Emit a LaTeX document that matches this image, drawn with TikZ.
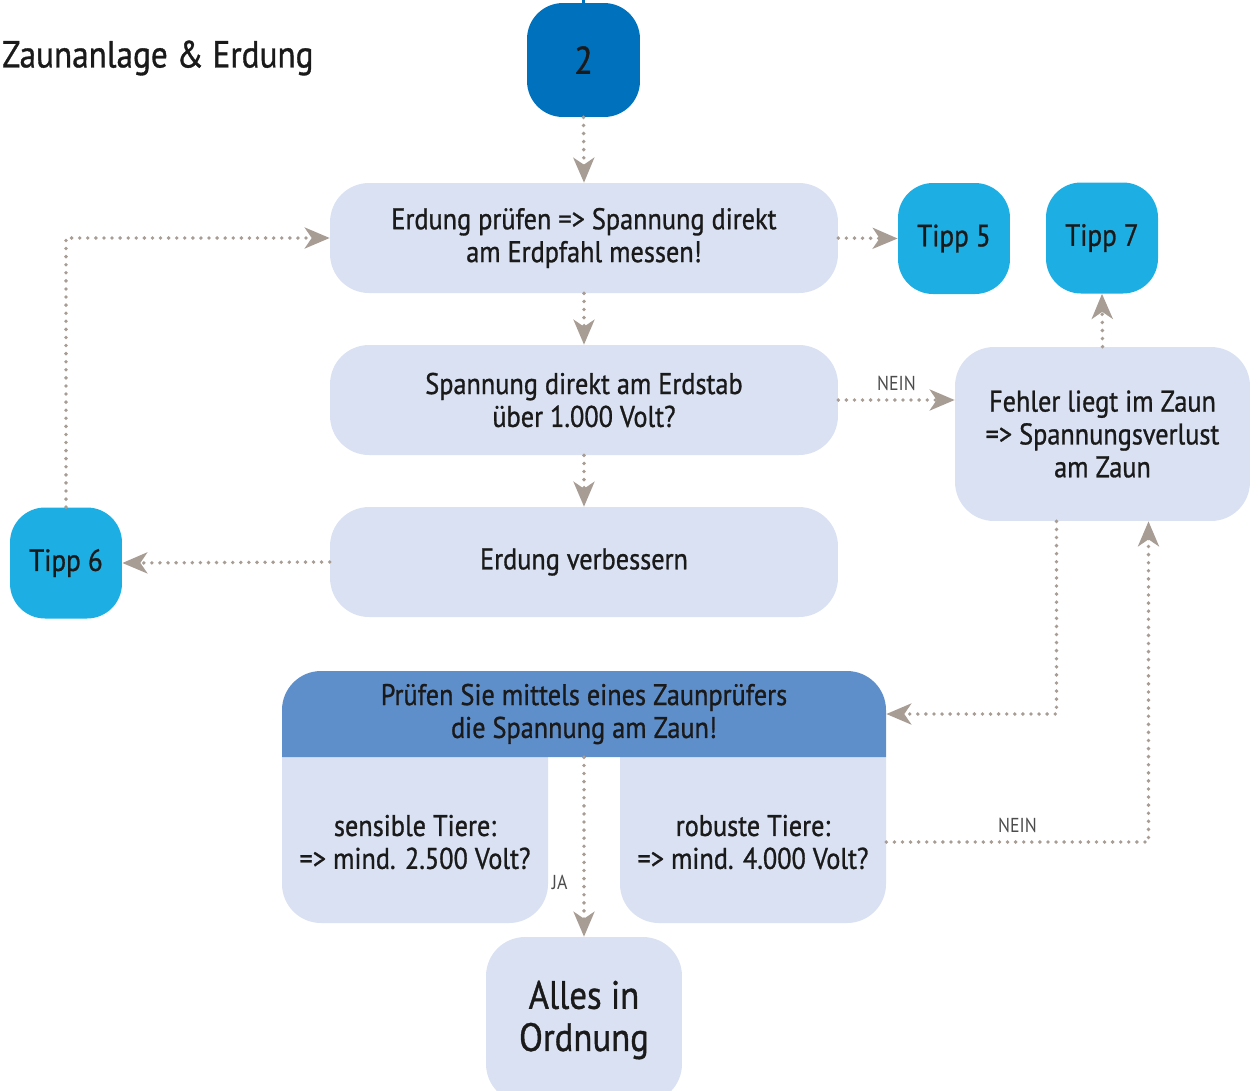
\documentclass[tikz,border=0pt]{standalone}
\usepackage{fontspec}
\setmainfont{PT Sans}[FakeStretch=0.88,FakeBold=0.9]
\usepackage{xcolor}
\usepackage{tikz}
\usetikzlibrary{shapes,arrows.meta}

\definecolor{dunkelblau}{HTML}{0071BC}
\definecolor{hellblau}{HTML}{1DAFE3}
\definecolor{mittelblau}{HTML}{5F8FCB}
\definecolor{lavendel}{HTML}{D9E1F2}
\definecolor{pfeil}{HTML}{A89D94}
\definecolor{schrift}{HTML}{1A1A1A}

\begin{document}
\begin{tikzpicture}[x=0.02cm,y=-0.02cm,
  >={Stealth[length=0.5cm,width=0.42cm,inset=0.14cm]},
  every node/.style={text=schrift},
  kasten/.style={rectangle,rounded corners=0.78cm,fill=lavendel,align=center,
    minimum width=10.16cm,minimum height=2.2cm,inner sep=0pt,
    font=\fontsize{17}{18.7}\selectfont},
  tipp/.style={rectangle,rounded corners=0.7cm,fill=hellblau,
    minimum width=2.24cm,minimum height=2.22cm,inner sep=0pt,
    font=\fontsize{17.5}{21}\selectfont},
  fluss/.style={pfeil,line width=2.2pt,dash pattern=on 0pt off 4.6pt,line cap=round,->},
  antwort/.style={text=black!70,font=\fontsize{11.5}{13}\selectfont\addfontfeature{FakeBold=0}}]
\useasboundingbox (0,0) rectangle (1258,1090);
\clip (0,0) rectangle (1258,1090);

\node[anchor=west,font=\fontsize{21.5}{27}\selectfont] (titel) at (-4,58) {Zaunanlage \& Erdung};

\node[rectangle,rounded corners=0.72cm,fill=dunkelblau,minimum width=2.26cm,minimum height=2.28cm,
  font=\fontsize{22}{26}\selectfont] (start) at (583.5,60) {2};
\coordinate (oben) at (583.5,-5);
\draw[dunkelblau,line width=1.5pt] (oben) -- (start.north);

\node[kasten] (erd) at (584,238) {Erdung prüfen => Spannung direkt\\am Erdpfahl messen!};
\node[kasten] (spann) at (584,400) {Spannung direkt am Erdstab\\über 1.000 Volt?};
\node[kasten] (verb) at (584,562) {Erdung verbessern};
\node[kasten,minimum width=5.9cm,minimum height=3.48cm] (fehler) at (1102.5,434)
  {Fehler liegt im Zaun\\=> Spannungsverlust\\am Zaun};

\node[tipp] (tipp5) at (954,238.5) {Tipp 5};
\node[tipp] (tipp7) at (1102,238) {Tipp 7};
\node[tipp] (tipp6) at (66,563) {Tipp 6};

% Zaunpruefer: Kopf und zwei Spalten
\fill[lavendel] (282,757) [rounded corners=0.78cm] -- (282,923) -- (548,923) [sharp corners] -- (548,757) -- cycle;
\fill[lavendel] (620,757) [rounded corners=0.78cm] -- (620,923) -- (886,923) [sharp corners] -- (886,757) -- cycle;
\fill[mittelblau] (282,757) [rounded corners=0.78cm] -- (282,671) -- (886,671) [sharp corners] -- (886,757) -- cycle;
\node[align=center,minimum width=12.08cm,minimum height=1.72cm,inner sep=0pt,
  font=\fontsize{17}{18.7}\selectfont] (pruef) at (584,714)
  {Prüfen Sie mittels eines Zaunprüfers\\die Spannung am Zaun!};
\node[align=center,minimum width=5.32cm,minimum height=3.32cm,inner sep=0pt,
  font=\fontsize{17}{18.7}\selectfont] (sensibel) at (415,842)
  {sensible Tiere:\\=> mind. 2.500 Volt?};
\node[align=center,minimum width=5.32cm,minimum height=3.32cm,inner sep=0pt,
  font=\fontsize{17}{18.7}\selectfont] (robust) at (753,842)
  {robuste Tiere:\\=> mind. 4.000 Volt?};

\node[kasten,minimum width=3.92cm,minimum height=3.32cm,
  font=\fontsize{22.5}{24}\selectfont] (alles) at (584,1020) {Alles in\\Ordnung};

% Verbindungen
\draw[fluss] (start.south) -- (erd.north);
\draw[fluss] (erd.east) -- (tipp5.west);
\draw[fluss] (erd.south) -- (spann.north);
\draw[fluss] (spann.east) -- node[antwort,above=1pt] {NEIN} (spann.east -| fehler.west);
\draw[fluss] (fehler.north) -- (tipp7.south);
\draw[fluss] (spann.south) -- (verb.north);
\draw[fluss] (verb.west) -- (tipp6.east);
\draw[fluss] (tipp6.north) |- (erd.west);
\draw[fluss] ([xshift=-0.92cm]fehler.south) |- (pruef.east);
\draw[fluss] (pruef.south) -- node[antwort,pos=0.7,left=5pt] {JA} (alles.north);
\draw[fluss] (robust.east) -| node[antwort,pos=0.25,above=1pt] {NEIN} ([xshift=0.92cm]fehler.south);
\end{tikzpicture}
\end{document}
